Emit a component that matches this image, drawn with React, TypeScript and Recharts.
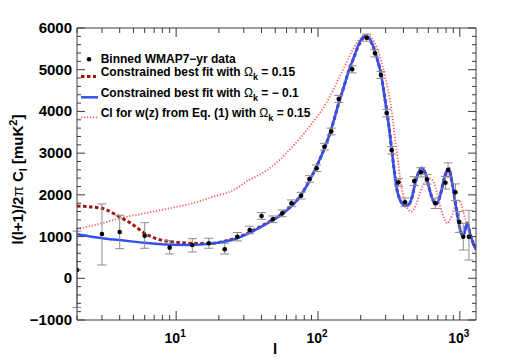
import React from "react";
import { ComposedChart, Line, Scatter, ErrorBar, XAxis, YAxis } from "recharts";

const FONT = '"Liberation Sans", Arial, Helvetica, sans-serif';
const FRAME = "#3a3a3a";
const BLUE = "#3052f2";
const DARK_RED = "#9e1a10";
const LIGHT_RED = "#ff5a5a";
const ERR = "#8c8c8c";

// Binned WMAP7-yr points, with lower / upper error
const BIN_L = [2, 3, 4, 6, 9, 13, 17, 22, 27, 33, 40, 48, 56, 65, 76, 87, 98, 111, 124, 140, 174, 220, 252, 278, 305, 331, 369, 411, 477, 532, 587, 671, 791, 826, 931, 990, 1057, 1159];
const BIN_CL = [200, 1062, 1110, 1022, 734, 799, 839, 695, 997, 1158, 1494, 1414, 1557, 1798, 1980, 2380, 2637, 3155, 3520, 4298, 5010, 5768, 5393, 4873, 3960, 3070, 2300, 1824, 2330, 2541, 2372, 1798, 2290, 2596, 2062, 1350, 997, 997];
const BIN_LO = [900, 743, 400, 302, 151, 168, 119, 112, 100, 90, 80, 80, 80, 80, 80, 80, 80, 80, 80, 85, 85, 85, 85, 85, 90, 90, 95, 100, 105, 110, 115, 125, 150, 170, 200, 250, 320, 560];
const BIN_HI = [930, 718, 400, 311, 168, 151, 121, 145, 100, 90, 80, 80, 80, 80, 80, 80, 80, 80, 80, 85, 85, 85, 85, 85, 90, 90, 95, 100, 105, 110, 115, 125, 150, 170, 200, 250, 320, 630];

// Constrained best fit, Omega_k = -0.1 (blue)
const NEG_L = [2, 3, 4, 6, 9, 13, 17, 22, 27, 33, 40, 48, 56, 65, 70, 84, 97, 110, 121, 131, 140, 150, 165, 178, 193, 213, 225, 237, 260, 279, 291, 303, 315, 333, 344, 357, 378, 411, 440, 458, 487, 514, 536, 572, 604, 638, 681, 729, 770, 814, 836, 883, 931, 983, 1028, 1050, 1085, 1127, 1186, 1285, 1300];
const NEG_CL = [1055, 960, 915, 850, 805, 800, 825, 880, 960, 1090, 1240, 1390, 1540, 1730, 1840, 2240, 2660, 3080, 3460, 3850, 4200, 4520, 4980, 5280, 5600, 5800, 5790, 5680, 5280, 4870, 4470, 4075, 3675, 3000, 2600, 2200, 1880, 1735, 1780, 1920, 2310, 2550, 2650, 2510, 2200, 1920, 1780, 2000, 2350, 2590, 2630, 2280, 1800, 1320, 1060, 1030, 1120, 1320, 1040, 720, 690];

// Constrained best fit, Omega_k = 0.15 (dark red dashed)
const POS_L = [2, 3, 4, 4.8, 6, 7.5, 9.3, 12.9, 17, 20, 22, 27, 33, 40, 48, 56, 65, 70, 84, 97, 110, 121, 131, 140, 150, 165, 178, 193, 213, 225, 237, 260, 279, 291, 303, 315, 333, 344, 357, 378, 411, 440, 458, 487, 514, 536, 572, 604, 638, 681, 729, 770, 814, 836, 883, 931, 983, 1028, 1050, 1085, 1127, 1186, 1285, 1300];
const POS_CL = [1733, 1678, 1470, 1318, 1080, 934, 877, 839, 832, 860, 890, 975, 1105, 1255, 1400, 1550, 1740, 1845, 2240, 2660, 3080, 3460, 3850, 4200, 4520, 4980, 5270, 5580, 5770, 5760, 5660, 5280, 4880, 4480, 4090, 3690, 3010, 2610, 2210, 1890, 1740, 1785, 1920, 2310, 2550, 2640, 2510, 2200, 1920, 1780, 2000, 2350, 2590, 2630, 2280, 1800, 1320, 1060, 1030, 1120, 1320, 1040, 740, 710];

// Cl for w(z) from Eq. (1), Omega_k = 0.15 (light red dotted)
const WZ_L = [2, 3, 4, 6, 9, 13, 18, 25.5, 32.6, 38.4, 50.5, 66, 87, 114, 135, 158, 187, 220, 250, 286, 310, 330, 351, 365, 378, 395, 411, 435, 458, 490, 514, 545, 572, 620, 671, 700, 729, 770, 814, 850, 883, 920, 955, 990, 1030, 1067, 1110, 1159, 1249, 1300];
const WZ_CL = [1181, 1318, 1438, 1558, 1678, 1798, 1950, 2117, 2357, 2476, 2757, 3155, 3634, 4195, 4674, 5154, 5633, 5850, 5650, 5072, 4550, 4034, 3300, 2850, 2450, 2050, 1800, 1640, 1600, 1760, 1957, 2200, 2316, 2396, 2196, 1960, 1718, 1460, 1318, 1400, 1518, 1720, 1838, 1877, 1750, 1558, 1350, 1158, 838, 700];

const X_MAJOR = [10, 100, 1000];
const X_TICKS = [2, 3, 4, 5, 6, 7, 8, 9, 10, 20, 30, 40, 50, 60, 70, 80, 90, 100, 200, 300, 400, 500, 600, 700, 800, 900, 1000];
const Y_MAJOR = [-1000, 0, 1000, 2000, 3000, 4000, 5000, 6000];
const Y_TICKS = Array.from({ length: 36 }, (_, i) => -1000 + i * 200);

const toPts = (ls: number[], vs: number[]) => ls.map((l, i) => ({ l, v: vs[i] }));
const BINNED = BIN_L.map((l, i) => ({ l, v: BIN_CL[i], err: [BIN_LO[i], BIN_HI[i]] }));
const NEG = toPts(NEG_L, NEG_CL);
const POS = toPts(POS_L, POS_CL);
const WZ = toPts(WZ_L, WZ_CL);

function BottomTick({ x, y, payload }: any) {
  const v = payload.value;
  const major = X_MAJOR.includes(v);
  return (
    <g>
      <line x1={x} x2={x} y1={y} y2={y - (major ? 9 : 5)} stroke={FRAME} />
      {major && (
        <text x={x - 1} y={y + 23} textAnchor="middle" fontFamily={FONT} fontWeight="bold" fontSize={14} fill="#000">
          10<tspan dy={-6} fontSize={10}>{Math.round(Math.log10(v))}</tspan>
        </text>
      )}
    </g>
  );
}

function TopTick({ x, y, payload }: any) {
  const major = X_MAJOR.includes(payload.value);
  return <line x1={x} x2={x} y1={y} y2={y + (major ? 9 : 5)} stroke={FRAME} />;
}

function LeftTick({ x, y, payload }: any) {
  const v = payload.value;
  const major = Y_MAJOR.includes(v);
  return (
    <g>
      <line x1={x} x2={x + (major ? 8 : 4)} y1={y} y2={y} stroke={FRAME} />
      {major && (
        <text x={x - 5} y={y + 5} textAnchor="end" fontFamily={FONT} fontWeight="bold" fontSize={15} fill="#000">
          {v < 0 ? "\u2212" + Math.abs(v) : String(v)}
        </text>
      )}
    </g>
  );
}

function RightTick({ x, y, payload }: any) {
  const major = Y_MAJOR.includes(payload.value);
  return <line x1={x} x2={x - (major ? 8 : 4)} y1={y} y2={y} stroke={FRAME} />;
}

function Legend() {
  const t = { fontFamily: FONT, fontWeight: "bold", fontSize: 12, fill: "#000" } as const;
  const omega = (rest: string) => (
    <>
      <tspan fontWeight="normal">Ω</tspan>
      <tspan dy={4} fontSize={9}>k</tspan>
      <tspan dy={-4}>{rest}</tspan>
    </>
  );
  return (
    <g>
      <circle cx={81} cy={51.3} r={2.3} fill="#000" />
      <text x={92.7} y={55.3} {...t}>Binned WMAP7−yr data</text>
      <line x1={73} x2={88} y1={68.5} y2={68.5} stroke={DARK_RED} strokeWidth={3} strokeDasharray="3.5 2.5" />
      <text x={92.7} y={68} {...t}>Constrained best fit with {omega(" = 0.15")}</text>
      <line x1={73} x2={90} y1={89.3} y2={89.3} stroke={BLUE} strokeWidth={2.5} />
      <text x={92.7} y={88.7} {...t}>Constrained best fit with {omega(" = − 0.1")}</text>
      <line x1={73} x2={90} y1={109.3} y2={109.3} stroke={LIGHT_RED} strokeWidth={1.8} strokeDasharray="1.2 1.8" />
      <text x={92.7} y={109.3} {...t}>Cl for w(z) from Eq. (1) with {omega(" = 0.15")}</text>
    </g>
  );
}

export default function App() {
  return (
    <div style={{ position: "relative", width: 518, height: 352 }}>
      <ComposedChart width={518} height={352} margin={{ top: 19, right: 49, bottom: 0, left: 0 }}>
        <XAxis xAxisId="b" dataKey="l" type="number" scale="log" domain={[2, 1300]} allowDataOverflow
          ticks={X_TICKS} interval={0} tick={(p: any) => <BottomTick {...p} />} tickLine={false}
          tickSize={0} tickMargin={0} height={40} axisLine={{ stroke: FRAME }} />
        <XAxis xAxisId="t" orientation="top" dataKey="l" type="number" scale="log" domain={[2, 1300]} allowDataOverflow
          ticks={X_TICKS} interval={0} tick={(p: any) => <TopTick {...p} />} tickLine={false}
          tickSize={0} tickMargin={0} height={1} axisLine={{ stroke: FRAME }} />
        <YAxis yAxisId="l" type="number" domain={[-1000, 6000]} allowDataOverflow ticks={Y_TICKS} interval={0}
          tick={(p: any) => <LeftTick {...p} />} tickLine={false} tickSize={0} tickMargin={0} width={69}
          axisLine={{ stroke: FRAME }} />
        <YAxis yAxisId="r" orientation="right" type="number" domain={[-1000, 6000]} allowDataOverflow ticks={Y_TICKS}
          interval={0} tick={(p: any) => <RightTick {...p} />} tickLine={false} tickSize={0} tickMargin={0} width={1}
          axisLine={{ stroke: FRAME }} />
        <Line xAxisId="b" yAxisId="l" data={WZ} dataKey="v" type="monotone" stroke={LIGHT_RED} strokeWidth={1.8}
          strokeDasharray="1.2 1.8" dot={false} isAnimationActive={false} />
        <Line xAxisId="b" yAxisId="l" data={POS} dataKey="v" type="monotone" stroke={DARK_RED} strokeWidth={3}
          strokeDasharray="3.5 2.5" dot={false} isAnimationActive={false} />
        <Line xAxisId="b" yAxisId="l" data={NEG} dataKey="v" type="monotone" stroke={BLUE} strokeWidth={2.5}
          dot={false} isAnimationActive={false} />
        <Scatter xAxisId="b" yAxisId="l" data={BINNED} dataKey="v" isAnimationActive={false}
          shape={(p: any) => <circle cx={p.cx} cy={p.cy} r={2.3} fill="#000" />}>
          <ErrorBar dataKey="err" direction="y" width={4.5} stroke={ERR} strokeWidth={1} isAnimationActive={false} />
        </Scatter>
      </ComposedChart>
      <svg width={518} height={352} style={{ position: "absolute", left: 0, top: 0, pointerEvents: "none" }}>
        <Legend />
        <text x={14.5} y={171.5} transform="rotate(-90 14.5 171.5)" textAnchor="middle" fontFamily={FONT}
          fontWeight="bold" fontSize={15} fill="#000">
          l(l+1)/2<tspan fontWeight="normal">π</tspan> C<tspan dy={4} fontSize={11}>l</tspan>
          <tspan dy={-4}> [muK</tspan><tspan dy={-6} fontSize={11}>2</tspan><tspan dy={6}>]</tspan>
        </text>
        <text x={267} y={346} textAnchor="middle" fontFamily={FONT} fontWeight="bold" fontSize={15} fill="#000">l</text>
      </svg>
    </div>
  );
}
